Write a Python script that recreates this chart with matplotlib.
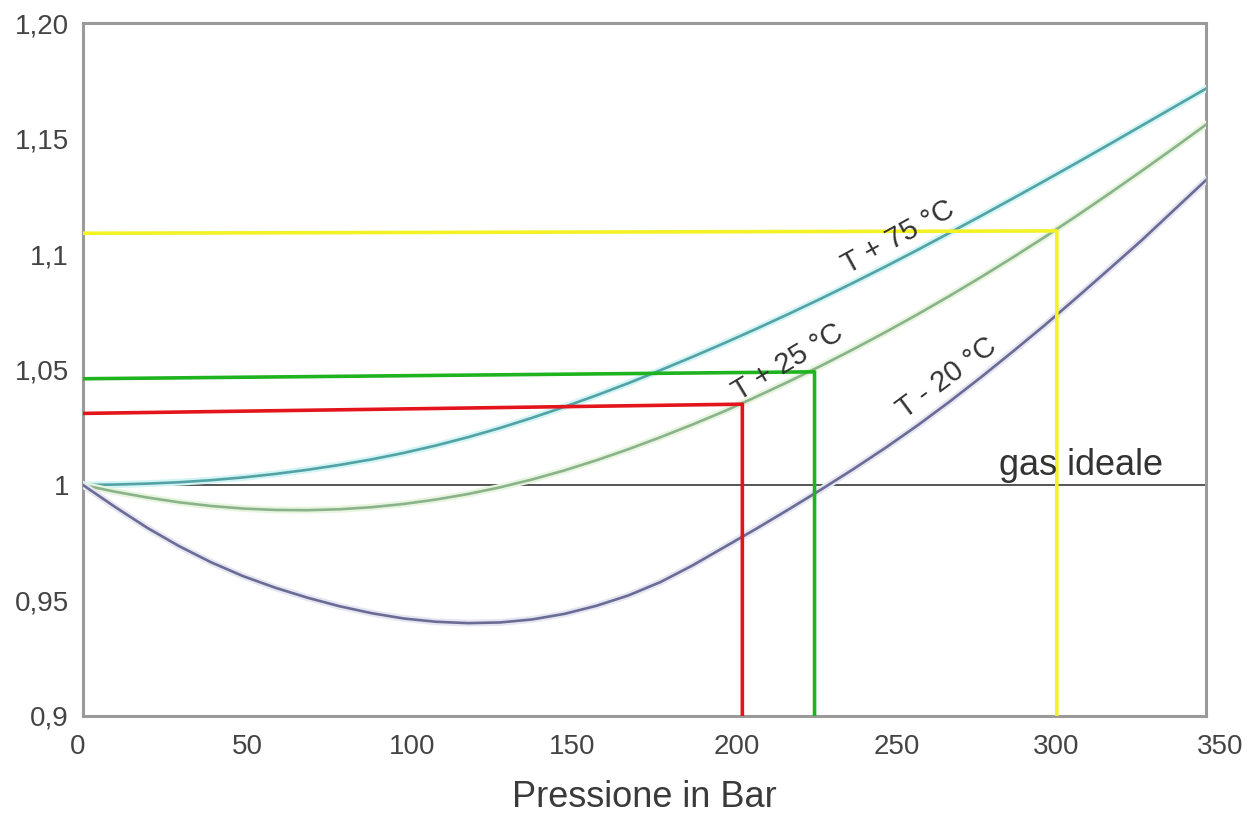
import matplotlib
matplotlib.use('Agg')
import matplotlib.pyplot as plt
import matplotlib.patheffects as pe
from matplotlib.transforms import ScaledTranslation

plt.rcParams['font.family'] = ['Liberation Sans', 'DejaVu Sans']

# Pressure (bar) and compressibility factor Z
pressure = [0, 10, 20, 30, 40, 50, 60, 70, 80, 90, 100, 110, 120, 130, 140, 150,
            160, 170, 180, 190, 200, 210, 220, 230, 240, 250, 260, 270, 280, 290,
            300, 310, 320, 330, 340, 350]
z_plus75 = [1.0000, 1.0002, 1.0006, 1.0012, 1.0021, 1.0033, 1.0048, 1.0066, 1.0087,
            1.0111, 1.0139, 1.0171, 1.0207, 1.0247, 1.0291, 1.0338, 1.0388, 1.0441,
            1.0497, 1.0555, 1.0615, 1.0677, 1.0741, 1.0807, 1.0875, 1.0945, 1.1017,
            1.1091, 1.1166, 1.1242, 1.1319, 1.1397, 1.1476, 1.1556, 1.1636, 1.1716]
z_plus25 = [1.0000, 0.9971, 0.9946, 0.9925, 0.9909, 0.9898, 0.9892, 0.9891, 0.9895,
            0.9904, 0.9918, 0.9937, 0.9961, 0.9990, 1.0024, 1.0063, 1.0107, 1.0155,
            1.0207, 1.0262, 1.0320, 1.0383, 1.0448, 1.0516, 1.0587, 1.0661, 1.0738,
            1.0818, 1.0901, 1.0987, 1.1076, 1.1168, 1.1263, 1.1360, 1.1459, 1.1560]
z_minus20 = [1.0000, 0.9905, 0.9815, 0.9735, 0.9665, 0.9605, 0.9555, 0.9512, 0.9475,
             0.9445, 0.9422, 0.9408, 0.9402, 0.9405, 0.9418, 0.9442, 0.9477, 0.9522,
             0.9580, 0.9652, 0.9732, 0.9812, 0.9895, 0.9980, 1.0068, 1.0160, 1.0257,
             1.0360, 1.0468, 1.0580, 1.0695, 1.0815, 1.0937, 1.1060, 1.1190, 1.1320]

# guide lines (horizontal from the y axis, then down to the x axis)
red_x, red_y = [0, 205.5, 205.5], [1.031, 1.035, 0.9]
green_x, green_y = [0, 228, 228], [1.046, 1.049, 0.9]
yellow_x, yellow_y = [0, 303.5, 303.5], [1.109, 1.110, 0.9]

x_ticks = [0, 50, 100, 150, 200, 250, 300, 350]
y_ticks = [0.9, 0.95, 1.0, 1.05, 1.1, 1.15, 1.2]
y_labels = ['0,9', '0,95', '1', '1,05', '1,1', '1,15', '1,20']

fig = plt.figure(figsize=(12.59, 8.14), dpi=100)
ax = fig.add_axes([0.0659, 0.1204, 0.8920, 0.8513])

# ideal gas reference
ax.axhline(1.0, color='#555555', linewidth=1.4, zorder=2)

# curves with a soft glow like the scanned original
ax.plot(pressure, z_plus75, color='#52a2a6', linewidth=1.9, zorder=3,
        path_effects=[pe.Stroke(linewidth=5, foreground='#d2f4f4'), pe.Normal()])
ax.plot(pressure, z_plus25, color='#8ab38c', linewidth=1.9, zorder=3,
        path_effects=[pe.Stroke(linewidth=5, foreground='#e8f5de'), pe.Normal()])
ax.plot(pressure, z_minus20, color='#6a6c95', linewidth=1.9, zorder=3,
        path_effects=[pe.Stroke(linewidth=5, foreground='#e6e6f2'), pe.Normal()])

ax.plot(red_x, red_y, color='#e3141c', linewidth=2.6, zorder=4)
ax.plot(green_x, green_y, color='#1fb31f', linewidth=2.6, zorder=4)
ax.plot(yellow_x, yellow_y, color='#f2f224', linewidth=2.6, zorder=4)

# curve labels
txt = dict(color='#333333', fontsize=21, ha='center', va='center', zorder=5)
ax.text(254, 1.1074, 'T + 75 °C', rotation=28.8, **txt)
ax.text(219.6, 1.0532, 'T + 25 °C', rotation=31, **txt)
ax.text(269.4, 1.0463, 'T - 20 °C', rotation=36.6, **txt)
ax.text(285.6, 1.0043, 'gas ideale', color='#333333', fontsize=26,
        ha='left', va='baseline', zorder=5)

ax.set_xlim(0, 350)
ax.set_ylim(0.9, 1.2)
ax.set_xticks(x_ticks)
ax.set_xticklabels([str(v) for v in x_ticks])
ax.set_yticks(y_ticks)
ax.set_yticklabels(y_labels)
ax.tick_params(axis='both', length=0, labelsize=20, labelcolor='#444444')
ax.tick_params(axis='x', pad=13)
ax.tick_params(axis='y', pad=10)

# the labels in the original sit slightly to the right of the grid positions
shifts = [-5, 4, 8, 8, 12, 12, 11, 14]
for lab, dx in zip(ax.get_xticklabels(), shifts):
    lab.set_transform(lab.get_transform() + ScaledTranslation(dx / 100, 0, fig.dpi_scale_trans))

for s in ax.spines.values():
    s.set_color('#9a9a9a')
    s.set_linewidth(2.2)

ax.text(0.5, -0.1313, 'Pressione in Bar', transform=ax.transAxes,
        fontsize=26, color='#3a3a3a', ha='center', va='baseline')

plt.savefig('out.png', dpi=100, facecolor='white')
plt.close()
